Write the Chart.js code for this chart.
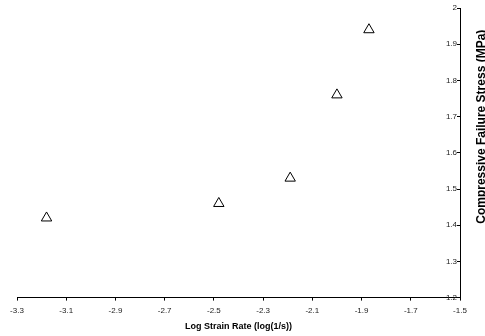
<!DOCTYPE html>
<html>
<head>
<meta charset="utf-8">
<script src="https://cdn.jsdelivr.net/npm/chart.js@4/dist/chart.umd.min.js"></script>
<style>
  html, body { margin: 0; padding: 0; background: #fff; }
  #wrap { width: 485px; height: 336px; }
</style>
</head>
<body>
<div id="wrap"><canvas id="chart"></canvas></div>
<script>
// values
const logStrainRate = [-3.18, -2.48, -2.19, -2.00, -1.87];
const failureStress = [1.42, 1.46, 1.53, 1.76, 1.94];

const xTitle = 'Log Strain Rate (log(1/s))';
const yTitle = 'Compressive Failure Stress (MPa)';

const FONT = '"Liberation Sans", Arial, sans-serif';

// y title reads bottom to top on the right side, so draw it ourselves
const yTitlePlugin = {
    id: 'yTitle',
    afterDraw(chart) {
        const ctx = chart.ctx;
        const area = chart.chartArea;
        ctx.save();
        ctx.translate(area.right + 22, area.top + (area.bottom - area.top) * 0.41);
        ctx.rotate(-Math.PI / 2);
        ctx.font = 'bold 12px ' + FONT;
        ctx.fillStyle = '#000';
        ctx.textAlign = 'center';
        ctx.textBaseline = 'middle';
        ctx.fillText(yTitle, 0, 0);
        ctx.restore();
    }
};

new Chart(document.getElementById('chart'), {
    type: 'scatter',
    data: {
        datasets: [{
            data: logStrainRate.map((x, i) => ({ x: x, y: failureStress[i] })),
            pointStyle: 'triangle',
            pointRadius: 6,
            pointHoverRadius: 6,
            borderColor: '#000',
            backgroundColor: '#fff',
            borderWidth: 1
        }]
    },
    options: {
        responsive: true,
        maintainAspectRatio: false,
        animation: false,
        layout: { padding: { left: 17, right: 25, top: 8, bottom: 4 } },
        plugins: {
            legend: { display: false },
            tooltip: { enabled: false }
        },
        scales: {
            x: {
                type: 'linear',
                min: -3.3,
                max: -1.5,
                ticks: {
                    stepSize: 0.2,
                    color: '#222',
                    font: { family: FONT, size: 8 },
                    padding: 5,
                    callback: v => Number(v.toFixed(1)).toString()
                },
                grid: { drawOnChartArea: false, tickLength: 3, color: '#000' },
                border: { color: '#000', width: 1 },
                title: {
                    display: true,
                    text: xTitle,
                    color: '#000',
                    font: { family: FONT, size: 9, weight: 'bold' },
                    padding: { top: 1, bottom: 0 }
                }
            },
            y: {
                type: 'linear',
                position: 'right',
                min: 1.2,
                max: 2,
                ticks: {
                    stepSize: 0.1,
                    mirror: true,
                    color: '#222',
                    font: { family: FONT, size: 8 },
                    padding: -3,
                    callback: v => Number(v.toFixed(1)).toString()
                },
                grid: { drawOnChartArea: false, tickLength: -3, color: '#000' },
                border: { color: '#000', width: 1 }
            }
        }
    },
    plugins: [yTitlePlugin]
});
</script>
</body>
</html>
